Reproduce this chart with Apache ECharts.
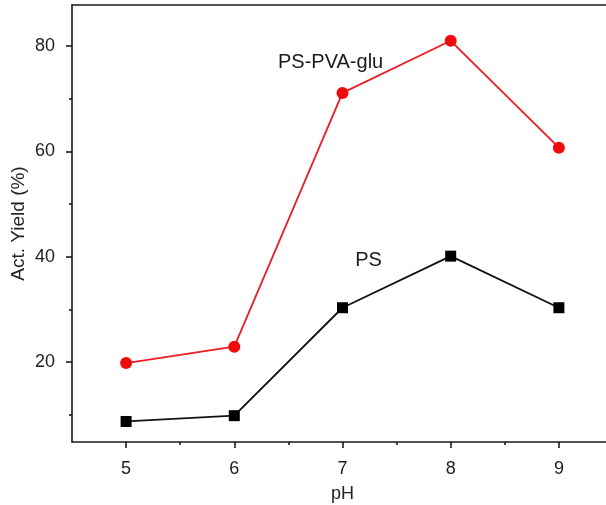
<!DOCTYPE html>
<html>
<head>
<meta charset="utf-8">
<script src="https://cdn.jsdelivr.net/npm/echarts@6/dist/echarts.min.js"></script>
<style>
html,body{margin:0;padding:0;background:#fff;}
#c{width:606px;height:505px;}
</style>
</head>
<body>
<div id="c"></div>
<script>
const pH = [5, 6, 7, 8, 9];
const psPvaGlu = [19.8, 22.9, 71.1, 81.0, 60.7];
const ps = [8.7, 9.8, 30.3, 40.1, 30.3];
const xTicks = [5, 6, 7, 8, 9];
const xMinorTicks = [5.5, 6.5, 7.5, 8.5];
const yTicks = [20, 40, 60, 80];
const yMinorTicks = [10, 30, 50, 70];
const seriesNames = ['PS-PVA-glu', 'PS'];

const FONT = '"Liberation Sans", Arial, sans-serif';
const AX = '#1a1a1a';
const chart = echarts.init(document.getElementById('c'));

const xMin = 4.5, xMax = 9.5, yMin = 4.8, yMax = 87.8;

chart.setOption({
  animation: false,
  backgroundColor: '#fff',
  grid: { left: 72, right: -7, top: 5, bottom: 63, containLabel: false, outerBoundsMode: 'none' },
  xAxis: [
    {
      type: 'value', position: 'bottom', min: xMin, max: xMax,
      name: 'pH', nameLocation: 'middle', nameGap: 43, nameMoveOverlap: false,
      nameTextStyle: { fontFamily: FONT, fontSize: 18, color: '#222' },
      axisLine: { show: true, lineStyle: { color: AX, width: 1.6 } },
      axisTick: { show: true, inside: false, length: 6, customValues: xTicks, lineStyle: { color: AX, width: 1.6 } },
      axisLabel: { customValues: xTicks, margin: 18, fontFamily: FONT, fontSize: 18, color: '#222' },
      splitLine: { show: false }
    },
    {
      type: 'value', position: 'bottom', min: xMin, max: xMax,
      axisLine: { show: false },
      axisTick: { show: true, length: 3, customValues: xMinorTicks, lineStyle: { color: AX, width: 1.6 } },
      axisLabel: { show: false },
      splitLine: { show: false }
    },
    {
      type: 'value', position: 'top', min: xMin, max: xMax,
      axisLine: { show: true, lineStyle: { color: AX, width: 1.6 } },
      axisTick: { show: false }, axisLabel: { show: false }, splitLine: { show: false }
    }
  ],
  yAxis: [
    {
      type: 'value', position: 'left', min: yMin, max: yMax,
      name: 'Act. Yield (%)', nameLocation: 'middle', nameGap: 44, nameRotate: 90, nameMoveOverlap: false,
      nameTextStyle: { fontFamily: FONT, fontSize: 19, color: '#222' },
      axisLine: { show: true, lineStyle: { color: AX, width: 1.6 } },
      axisTick: { show: true, length: 6, customValues: yTicks, lineStyle: { color: AX, width: 1.6 } },
      axisLabel: { customValues: yTicks, margin: 17, fontFamily: FONT, fontSize: 18, color: '#222' },
      splitLine: { show: false }
    },
    {
      type: 'value', position: 'left', min: yMin, max: yMax,
      axisLine: { show: false },
      axisTick: { show: true, length: 3, customValues: yMinorTicks, lineStyle: { color: AX, width: 1.6 } },
      axisLabel: { show: false },
      splitLine: { show: false }
    }
  ],
  series: [
    {
      name: seriesNames[0], type: 'line', xAxisIndex: 0, yAxisIndex: 0,
      data: pH.map((x, i) => [x, psPvaGlu[i]]),
      symbol: 'circle', symbolSize: 12,
      lineStyle: { color: '#ec1c24', width: 1.8 },
      itemStyle: { color: '#f00a0a' },
      markPoint: {
        symbol: 'circle', symbolSize: 0,
        data: [{ coord: [6.89, 76.8] }],
        label: { show: true, position: 'inside', formatter: seriesNames[0], fontFamily: FONT, fontSize: 20, color: '#1a1a1a' }
      }
    },
    {
      name: seriesNames[1], type: 'line', xAxisIndex: 0, yAxisIndex: 0,
      data: pH.map((x, i) => [x, ps[i]]),
      symbol: 'rect', symbolSize: 11,
      lineStyle: { color: '#111', width: 1.8 },
      itemStyle: { color: '#000' },
      markPoint: {
        symbol: 'circle', symbolSize: 0,
        data: [{ coord: [7.24, 39.2] }],
        label: { show: true, position: 'inside', formatter: seriesNames[1], fontFamily: FONT, fontSize: 20, color: '#1a1a1a' }
      }
    }
  ]
});
</script>
</body>
</html>
